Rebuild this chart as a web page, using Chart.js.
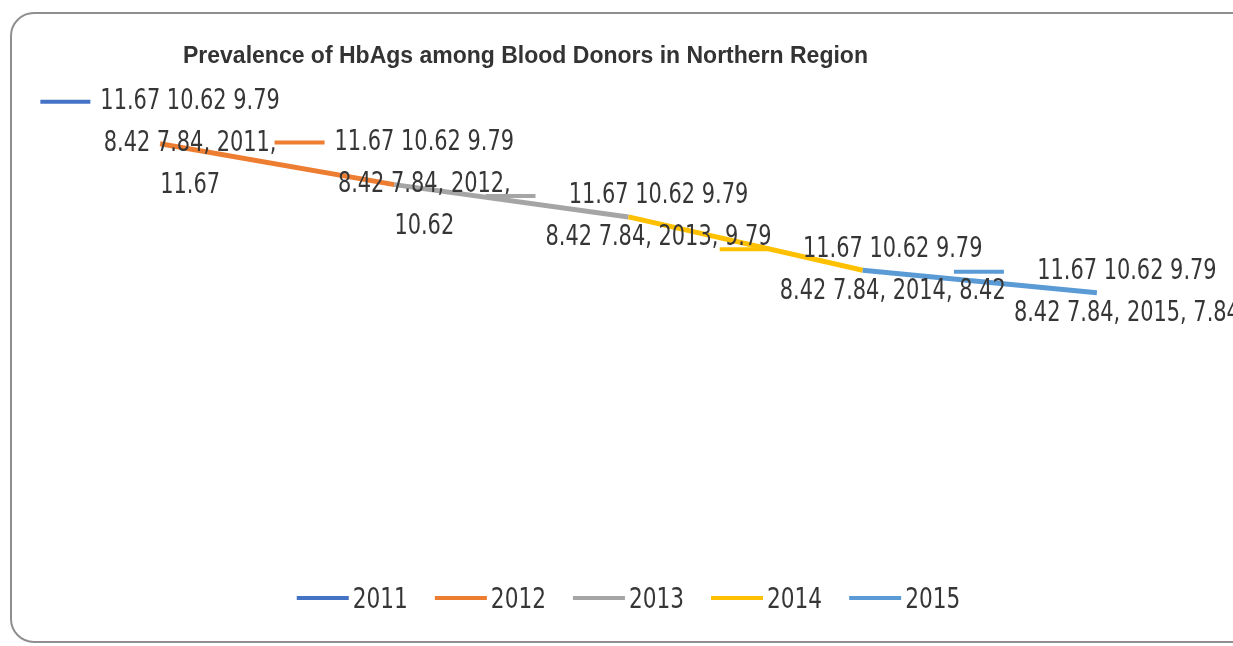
<!DOCTYPE html>
<html>
<head>
<meta charset="utf-8">
<script src="https://cdn.jsdelivr.net/npm/chart.js@4.4.1/dist/chart.umd.min.js"></script>
<style>
  html, body { margin: 0; padding: 0; background: #fff; overflow: hidden; }
  #wrap { position: relative; width: 1233px; height: 646px; }
  #frame { position: absolute; left: 10px; top: 12px; width: 1260px; height: 631px; border: 2px solid #8f8f8f; border-radius: 24px; box-sizing: border-box; pointer-events: none; }
  #title { position: absolute; left: 183px; top: 42px; font: bold 23px "Liberation Sans", sans-serif; color: #333; white-space: nowrap; }
  canvas { position: absolute; left: 0; top: 0; }
</style>
</head>
<body>
<div id="wrap">
  <canvas id="chart" width="1233" height="646"></canvas>
  <div id="frame"></div>
  <div id="title">Prevalence of HbAgs among Blood Donors in Northern Region</div>
</div>
<script>
const years = ['2011', '2012', '2013', '2014', '2015'];
const prevalence = [11.67, 10.62, 9.79, 8.42, 7.84];
const yearColors = ['#4472C4', '#ED7D31', '#A5A5A5', '#FFC000', '#5B9BD5'];
// excel wrapped the first two labels before the value
const wrapBeforeValue = [true, true, false, false, false];

// the series was named after the whole value column
const seriesName = prevalence.join(' ');
const condensed = '"DejaVu Sans Condensed", "DejaVu Sans", sans-serif';
const squeeze = 0.83; // calibri is narrower than anything installed
const textColor = '#363636';

function labelLines(i) {
    const parts = seriesName.split(' ');
    const head = parts.slice(0, 3).join(' ');
    const tail = parts.slice(3).join(' ') + ', ' + years[i] + ',';
    return wrapBeforeValue[i]
        ? [head, tail, String(prevalence[i])]
        : [head, tail + ' ' + prevalence[i]];
}

function narrowText(ctx, text, x, y) {
    ctx.save();
    ctx.translate(x, y);
    ctx.scale(squeeze, 1);
    ctx.fillText(text, 0, 0);
    ctx.restore();
}

function keyLine(ctx, color, x, y, w) {
    ctx.strokeStyle = color;
    ctx.lineWidth = 4;
    ctx.beginPath();
    ctx.moveTo(x, y);
    ctx.lineTo(x + w, y);
    ctx.stroke();
}

// data labels: legend key + series name, category, value, centred on the point
const pointLabels = {
    id: 'pointLabels',
    afterDatasetsDraw(chart) {
        const ctx = chart.ctx;
        const meta = chart.getDatasetMeta(0);
        const lineH = 42, keyW = 50, keyGap = 10;
        ctx.save();
        ctx.font = '28px ' + condensed;
        ctx.fillStyle = textColor;
        ctx.textAlign = 'center';
        ctx.textBaseline = 'middle';
        meta.data.forEach((pt, i) => {
            const lines = labelLines(i);
            const textW = Math.max(...lines.map(l => ctx.measureText(l).width)) * squeeze;
            const left = pt.x - (keyW + keyGap + textW) / 2;
            const cx = left + keyW + keyGap + textW / 2;
            const top = pt.y - (lines.length - 1) * lineH / 2;
            keyLine(ctx, yearColors[i], left, top, keyW);
            lines.forEach((l, k) => narrowText(ctx, l, cx, top + k * lineH));
        });
        ctx.restore();
    }
};

// bottom legend, one entry per year colour
const yearLegend = {
    id: 'yearLegend',
    afterDraw(chart) {
        const ctx = chart.ctx;
        const keyW = 52, gap = 4, spacing = 27, y = 600;
        ctx.save();
        ctx.font = '29px ' + condensed;
        ctx.fillStyle = textColor;
        ctx.textAlign = 'left';
        ctx.textBaseline = 'middle';
        const widths = years.map(t => ctx.measureText(t).width * squeeze);
        const total = widths.reduce((s, w) => s + keyW + gap + w, 0) + spacing * (years.length - 1);
        let x = (chart.chartArea.left + chart.chartArea.right) / 2 - total / 2;
        years.forEach((t, i) => {
            keyLine(ctx, yearColors[i], x, y - 2, keyW);
            narrowText(ctx, t, x + keyW + gap, y);
            x += keyW + gap + widths[i] + spacing;
        });
        ctx.restore();
    }
};

document.addEventListener('DOMContentLoaded', () => {
    const ctx = document.getElementById('chart').getContext('2d');
    new Chart(ctx, {
        type: 'line',
        data: {
            labels: years,
            datasets: [{
                label: seriesName,
                data: prevalence,
                borderColor: yearColors[0],
                borderWidth: 5,
                pointRadius: 0,
                tension: 0,
                segment: {
                    borderColor: c => yearColors[c.p1DataIndex]
                }
            }]
        },
        options: {
            responsive: false,
            animation: false,
            layout: {
                padding: { top: 92, left: 43, right: 19, bottom: 87 }
            },
            scales: {
                x: { display: false, offset: true },
                y: { display: false, min: 1, max: 13 }
            },
            plugins: {
                tooltip: { enabled: false },
                legend: { display: false }
            }
        },
        plugins: [pointLabels, yearLegend]
    });
});
</script>
</body>
</html>
